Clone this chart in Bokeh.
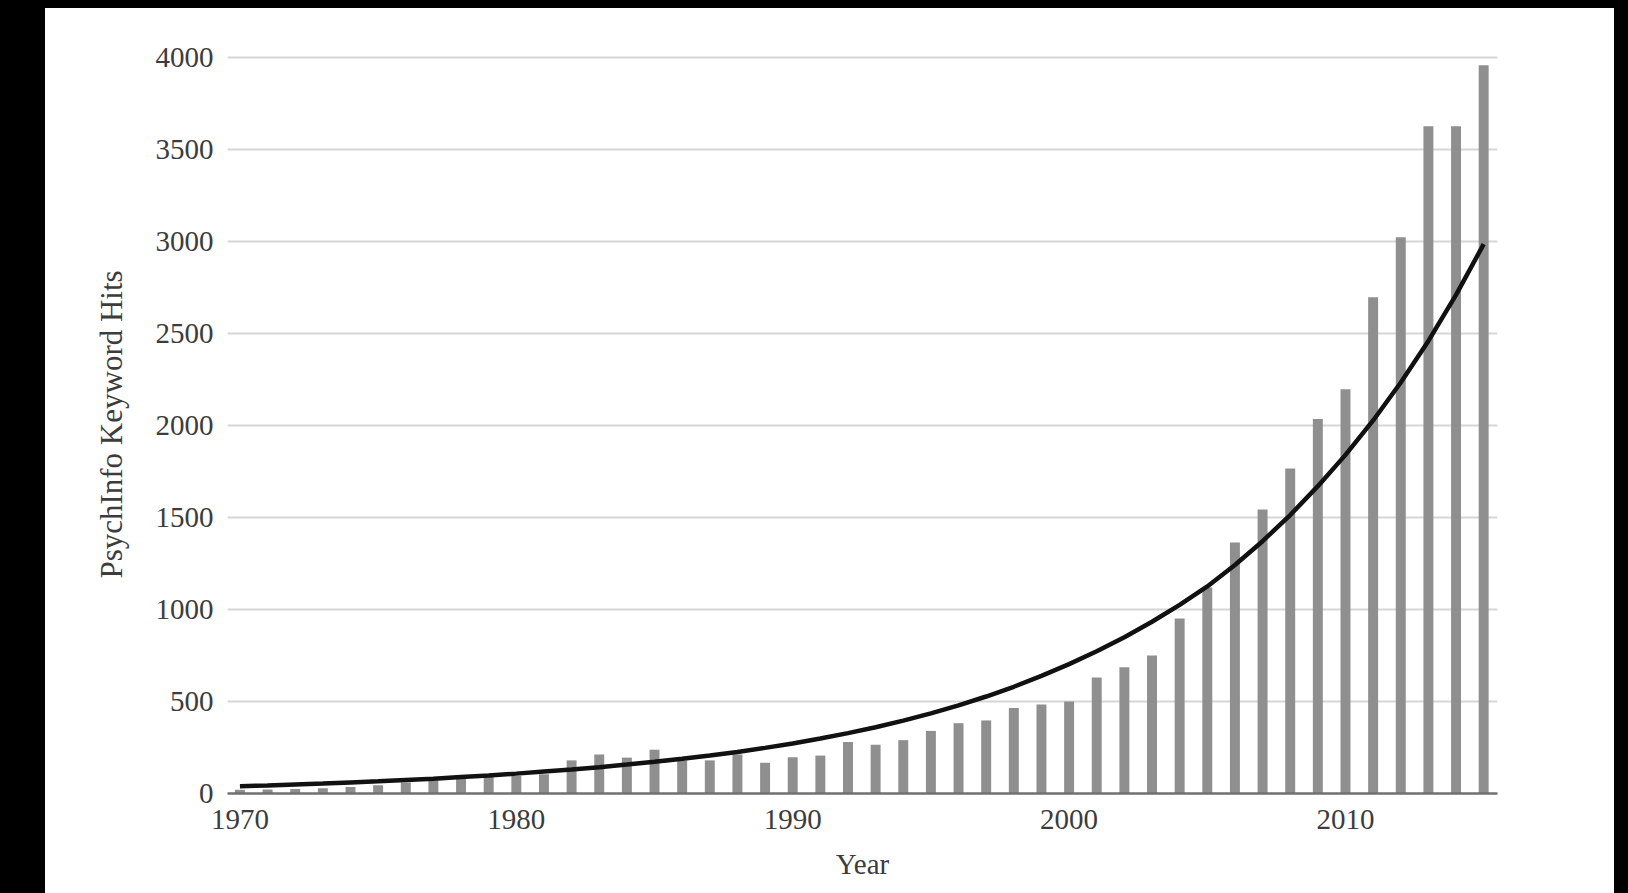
from bokeh.plotting import figure
from bokeh.models import Range1d, FixedTicker, Spacer
from bokeh.layouts import row, column
from bokeh.embed import file_html
from bokeh.resources import INLINE

years = list(range(1970, 2016))
hits = [20, 22, 25, 28, 35, 45, 60, 70, 85, 95,
        95, 105, 180, 212, 195, 238, 180, 180, 212, 167,
        197, 206, 280, 265, 290, 340, 382, 397, 464, 484,
        500, 630, 686, 750, 951, 1120, 1364, 1543, 1766, 2035,
        2196, 2697, 3023, 3625, 3625, 3957]
trend = [40, 44, 49, 54, 60, 66, 73, 80, 89, 98,
         108, 119, 130, 143, 157, 172, 189, 207, 226, 248,
         272, 299, 328, 360, 396, 435, 479, 527, 580, 639,
         703, 773, 849, 933, 1025, 1125, 1242, 1371, 1513, 1670,
         1840, 2027, 2233, 2459, 2709, 2985]
x_ticks = [1970, 1980, 1990, 2000, 2010]
y_ticks = [0, 500, 1000, 1500, 2000, 2500, 3000, 3500, 4000]

FONT = "Liberation Serif"
TXT = "#3c3c3c"

p = figure(width=1569, height=885, output_backend="svg", toolbar_location=None,
           x_range=Range1d(1969.55, 2015.5), y_range=Range1d(0, 4010),
           min_border_left=182, min_border_right=117, min_border_top=47, min_border_bottom=100,
           background_fill_color="white", border_fill_color="white")
p.outline_line_color = None

p.vbar(x=years, top=hits, width=0.36, fill_color="#8f8f8f", line_color=None)
p.line(years, trend, line_width=4.5, line_color="#111111")

p.xgrid.visible = False
p.ygrid.ticker = FixedTicker(ticks=y_ticks)
p.ygrid.grid_line_color = "#d6d6d6"
p.ygrid.grid_line_width = 2

p.xaxis.ticker = FixedTicker(ticks=x_ticks)
p.yaxis.ticker = FixedTicker(ticks=y_ticks)

for ax in (p.xaxis, p.yaxis):
    ax.major_tick_line_color = None
    ax.minor_tick_line_color = None
    ax.major_tick_out = 0
    ax.major_tick_in = 0
    ax.major_label_text_font = FONT
    ax.major_label_text_font_size = "29px"
    ax.major_label_text_color = TXT
    ax.axis_label_text_font = FONT
    ax.axis_label_text_font_size = "29px"
    ax.axis_label_text_font_style = "normal"
    ax.axis_label_text_color = TXT

p.xaxis.axis_line_color = "#707070"
p.xaxis.axis_line_width = 2.5
p.xaxis.major_label_standoff = 16
p.xaxis.axis_label = "Year"
p.xaxis.axis_label_standoff = 16

p.yaxis.axis_line_color = None
p.yaxis.major_label_standoff = 14
p.yaxis.axis_label = "PsychInfo Keyword Hits"
p.yaxis.axis_label_text_font_size = "31px"
p.yaxis.axis_label_standoff = 24

top = Spacer(width=1628, height=8, styles={"background-color": "black"})
left = Spacer(width=45, height=885, styles={"background-color": "black"})
right = Spacer(width=14, height=885, styles={"background-color": "black"})
layout = column(top, row(left, p, right))

open("out.html", "w").write(file_html(layout, INLINE))
